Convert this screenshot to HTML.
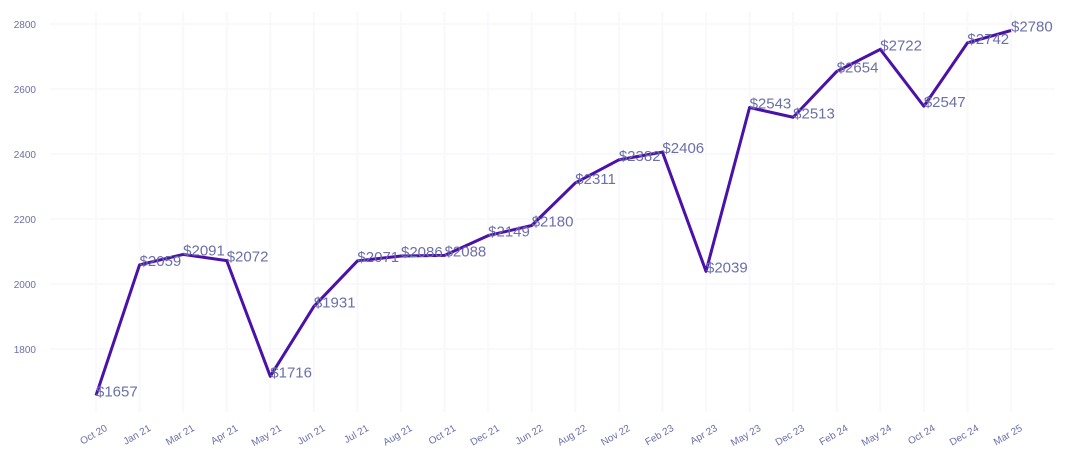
<!DOCTYPE html>
<html><head><meta charset="utf-8"><style>
body{margin:0;background:#fff;font-family:"Liberation Sans",sans-serif}
</style></head><body>
<svg id="c" width="1070" height="465"></svg>
<script>
const categories=["Oct 20","Jan 21","Mar 21","Apr 21","May 21","Jun 21","Jul 21","Aug 21","Oct 21","Dec 21","Jun 22","Aug 22","Nov 22","Feb 23","Apr 23","May 23","Dec 23","Feb 24","May 24","Oct 24","Dec 24","Mar 25"];
const values=[1657,2059,2091,2072,1716,1931,2071,2086,2088,2149,2180,2311,2382,2406,2039,2543,2513,2654,2722,2547,2742,2780];
const yTicks=[1800,2000,2200,2400,2600,2800];
const NS="http://www.w3.org/2000/svg";
const svg=document.getElementById('c');
const x0=96,x1=1011;
function xs(i){return x0+(x1-x0)*i/(categories.length-1);}
function ys(v){return 349-(v-1800)*0.325;}
function mk(t,a,p){const e=document.createElementNS(NS,t);for(const k in a)e.setAttribute(k,a[k]);(p||svg).appendChild(e);return e;}
yTicks.forEach(v=>{
const l=mk('line',{x1:50,x2:1055,y1:ys(v),y2:ys(v),stroke:'#f8f8fd','stroke-width':2});


const t=mk('text',{x:36,y:ys(v)+4,'text-anchor':'end','font-size':10,fill:'#6b6fa8'});
t.textContent=v;


});
categories.forEach((c,i)=>{
const l=mk('line',{x1:xs(i),x2:xs(i),y1:12,y2:412,stroke:'#f8f8fd','stroke-width':2});


const t=mk('text',{x:0,y:0,'text-anchor':'end','font-size':10,fill:'#6b6fa8',transform:`translate(${xs(i)+12},${430}) rotate(-30)`});
t.textContent=c;


});
const p=mk('polyline',{points:values.map((v,i)=>xs(i)+','+ys(v)).join(' '),fill:'none',stroke:'#4a12a8','stroke-width':3,'stroke-linejoin':'round'});


values.forEach((v,i)=>{
const t=mk('text',{x:xs(i),y:ys(v)+1,'font-size':15,fill:'#6b6fa8'});
t.textContent='$'+v;


});
</script>
</body></html>
